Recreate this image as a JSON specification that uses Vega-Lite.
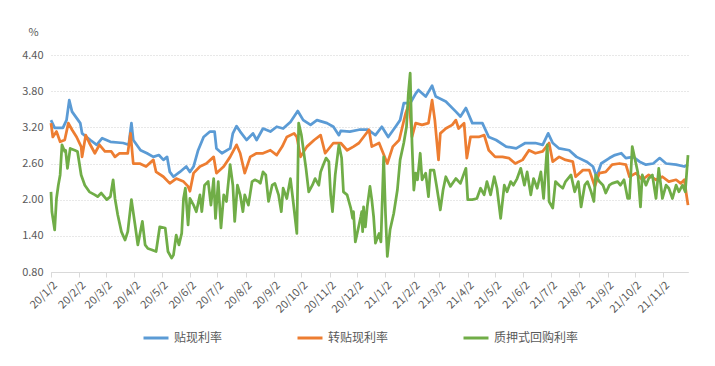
{
"$schema":"https://vega.github.io/schema/vega-lite/v6.json",
"width":637,"height":217,
"autosize":{"type":"none"},
"padding":{"left":51,"top":55,"right":27,"bottom":94},
"background":"white",
"config":{"view":{"stroke":null},"font":"Noto Sans CJK SC"},
"data":{"values":[
{"date":"2020-01-02","series":"贴现利率","rate":3.32},{"date":"2020-01-06","series":"贴现利率","rate":3.19},{"date":"2020-01-15","series":"贴现利率","rate":3.19},{"date":"2020-01-19","series":"贴现利率","rate":3.32},{"date":"2020-01-22","series":"贴现利率","rate":3.65},{"date":"2020-01-25","series":"贴现利率","rate":3.46},{"date":"2020-02-03","series":"贴现利率","rate":3.27},{"date":"2020-02-05","series":"贴现利率","rate":3.10},{"date":"2020-02-14","series":"贴现利率","rate":2.99},{"date":"2020-02-21","series":"贴现利率","rate":2.91},{"date":"2020-02-27","series":"贴现利率","rate":3.02},{"date":"2020-03-07","series":"贴现利率","rate":2.96},{"date":"2020-03-21","series":"贴现利率","rate":2.94},{"date":"2020-03-27","series":"贴现利率","rate":2.91},{"date":"2020-03-30","series":"贴现利率","rate":3.27},{"date":"2020-04-01","series":"贴现利率","rate":2.99},{"date":"2020-04-09","series":"贴现利率","rate":2.82},{"date":"2020-04-16","series":"贴现利率","rate":2.77},{"date":"2020-04-23","series":"贴现利率","rate":2.71},{"date":"2020-04-29","series":"贴现利率","rate":2.74},{"date":"2020-05-04","series":"贴现利率","rate":2.66},{"date":"2020-05-08","series":"贴现利率","rate":2.71},{"date":"2020-05-11","series":"贴现利率","rate":2.46},{"date":"2020-05-15","series":"贴现利率","rate":2.38},{"date":"2020-05-22","series":"贴现利率","rate":2.46},{"date":"2020-05-29","series":"贴现利率","rate":2.55},{"date":"2020-06-02","series":"贴现利率","rate":2.46},{"date":"2020-06-06","series":"贴现利率","rate":2.55},{"date":"2020-06-11","series":"贴现利率","rate":2.82},{"date":"2020-06-17","series":"贴现利率","rate":3.04},{"date":"2020-06-24","series":"贴现利率","rate":3.13},{"date":"2020-06-29","series":"贴现利率","rate":3.13},{"date":"2020-07-01","series":"贴现利率","rate":2.85},{"date":"2020-07-07","series":"贴现利率","rate":2.77},{"date":"2020-07-16","series":"贴现利率","rate":2.85},{"date":"2020-07-19","series":"贴现利率","rate":3.10},{"date":"2020-07-23","series":"贴现利率","rate":3.22},{"date":"2020-07-27","series":"贴现利率","rate":3.13},{"date":"2020-08-03","series":"贴现利率","rate":2.99},{"date":"2020-08-10","series":"贴现利率","rate":3.10},{"date":"2020-08-14","series":"贴现利率","rate":2.99},{"date":"2020-08-21","series":"贴现利率","rate":3.18},{"date":"2020-08-29","series":"贴现利率","rate":3.13},{"date":"2020-09-05","series":"贴现利率","rate":3.21},{"date":"2020-09-12","series":"贴现利率","rate":3.18},{"date":"2020-09-20","series":"贴现利率","rate":3.29},{"date":"2020-09-28","series":"贴现利率","rate":3.47},{"date":"2020-10-04","series":"贴现利率","rate":3.32},{"date":"2020-10-12","series":"贴现利率","rate":3.24},{"date":"2020-10-19","series":"贴现利率","rate":3.32},{"date":"2020-10-30","series":"贴现利率","rate":3.27},{"date":"2020-11-06","series":"贴现利率","rate":3.21},{"date":"2020-11-12","series":"贴现利率","rate":3.07},{"date":"2020-11-14","series":"贴现利率","rate":3.14},{"date":"2020-11-24","series":"贴现利率","rate":3.13},{"date":"2020-12-04","series":"贴现利率","rate":3.16},{"date":"2020-12-14","series":"贴现利率","rate":3.16},{"date":"2020-12-22","series":"贴现利率","rate":3.07},{"date":"2020-12-29","series":"贴现利率","rate":3.21},{"date":"2021-01-05","series":"贴现利率","rate":3.04},{"date":"2021-01-13","series":"贴现利率","rate":3.21},{"date":"2021-01-18","series":"贴现利率","rate":3.32},{"date":"2021-01-22","series":"贴现利率","rate":3.60},{"date":"2021-01-29","series":"贴现利率","rate":3.60},{"date":"2021-02-04","series":"贴现利率","rate":3.76},{"date":"2021-02-07","series":"贴现利率","rate":3.82},{"date":"2021-02-15","series":"贴现利率","rate":3.71},{"date":"2021-02-22","series":"贴现利率","rate":3.89},{"date":"2021-02-26","series":"贴现利率","rate":3.71},{"date":"2021-03-09","series":"贴现利率","rate":3.63},{"date":"2021-03-20","series":"贴现利率","rate":3.46},{"date":"2021-03-25","series":"贴现利率","rate":3.38},{"date":"2021-03-31","series":"贴现利率","rate":3.52},{"date":"2021-04-07","series":"贴现利率","rate":3.27},{"date":"2021-04-18","series":"贴现利率","rate":3.27},{"date":"2021-04-25","series":"贴现利率","rate":3.04},{"date":"2021-05-03","series":"贴现利率","rate":2.99},{"date":"2021-05-14","series":"贴现利率","rate":2.88},{"date":"2021-05-25","series":"贴现利率","rate":2.85},{"date":"2021-06-04","series":"贴现利率","rate":2.94},{"date":"2021-06-15","series":"贴现利率","rate":2.94},{"date":"2021-06-23","series":"贴现利率","rate":2.91},{"date":"2021-06-29","series":"贴现利率","rate":3.10},{"date":"2021-07-04","series":"贴现利率","rate":2.94},{"date":"2021-07-11","series":"贴现利率","rate":2.85},{"date":"2021-07-22","series":"贴现利率","rate":2.82},{"date":"2021-07-30","series":"贴现利率","rate":2.71},{"date":"2021-08-10","series":"贴现利率","rate":2.63},{"date":"2021-08-17","series":"贴现利率","rate":2.55},{"date":"2021-08-21","series":"贴现利率","rate":2.38},{"date":"2021-08-26","series":"贴现利率","rate":2.60},{"date":"2021-09-04","series":"贴现利率","rate":2.69},{"date":"2021-09-10","series":"贴现利率","rate":2.74},{"date":"2021-09-17","series":"贴现利率","rate":2.77},{"date":"2021-09-22","series":"贴现利率","rate":2.69},{"date":"2021-09-30","series":"贴现利率","rate":2.71},{"date":"2021-10-07","series":"贴现利率","rate":2.63},{"date":"2021-10-14","series":"贴现利率","rate":2.58},{"date":"2021-10-22","series":"贴现利率","rate":2.60},{"date":"2021-10-29","series":"贴现利率","rate":2.69},{"date":"2021-11-05","series":"贴现利率","rate":2.60},{"date":"2021-11-16","series":"贴现利率","rate":2.58},{"date":"2021-11-25","series":"贴现利率","rate":2.55},{"date":"2021-11-29","series":"贴现利率","rate":2.58},
{"date":"2020-01-02","series":"转贴现利率","rate":3.27},{"date":"2020-01-04","series":"转贴现利率","rate":3.04},{"date":"2020-01-08","series":"转贴现利率","rate":3.13},{"date":"2020-01-12","series":"转贴现利率","rate":2.96},{"date":"2020-01-17","series":"转贴现利率","rate":2.99},{"date":"2020-01-21","series":"转贴现利率","rate":3.27},{"date":"2020-01-25","series":"转贴现利率","rate":3.16},{"date":"2020-01-30","series":"转贴现利率","rate":3.04},{"date":"2020-02-04","series":"转贴现利率","rate":2.88},{"date":"2020-02-05","series":"转贴现利率","rate":2.71},{"date":"2020-02-09","series":"转贴现利率","rate":3.07},{"date":"2020-02-13","series":"转贴现利率","rate":2.94},{"date":"2020-02-19","series":"转贴现利率","rate":2.77},{"date":"2020-02-24","series":"转贴现利率","rate":2.91},{"date":"2020-03-01","series":"转贴现利率","rate":2.80},{"date":"2020-03-08","series":"转贴现利率","rate":2.80},{"date":"2020-03-12","series":"转贴现利率","rate":2.71},{"date":"2020-03-17","series":"转贴现利率","rate":2.77},{"date":"2020-03-26","series":"转贴现利率","rate":2.77},{"date":"2020-03-29","series":"转贴现利率","rate":3.10},{"date":"2020-04-01","series":"转贴现利率","rate":2.60},{"date":"2020-04-08","series":"转贴现利率","rate":2.60},{"date":"2020-04-15","series":"转贴现利率","rate":2.55},{"date":"2020-04-23","series":"转贴现利率","rate":2.66},{"date":"2020-04-26","series":"转贴现利率","rate":2.46},{"date":"2020-05-04","series":"转贴现利率","rate":2.38},{"date":"2020-05-11","series":"转贴现利率","rate":2.27},{"date":"2020-05-18","series":"转贴现利率","rate":2.35},{"date":"2020-05-26","series":"转贴现利率","rate":2.30},{"date":"2020-05-31","series":"转贴现利率","rate":2.22},{"date":"2020-06-02","series":"转贴现利率","rate":2.14},{"date":"2020-06-06","series":"转贴现利率","rate":2.44},{"date":"2020-06-13","series":"转贴现利率","rate":2.55},{"date":"2020-06-20","series":"转贴现利率","rate":2.60},{"date":"2020-06-28","series":"转贴现利率","rate":2.71},{"date":"2020-07-01","series":"转贴现利率","rate":2.44},{"date":"2020-07-09","series":"转贴现利率","rate":2.55},{"date":"2020-07-16","series":"转贴现利率","rate":2.71},{"date":"2020-07-23","series":"转贴现利率","rate":2.91},{"date":"2020-07-27","series":"转贴现利率","rate":2.77},{"date":"2020-08-01","series":"转贴现利率","rate":2.44},{"date":"2020-08-07","series":"转贴现利率","rate":2.71},{"date":"2020-08-14","series":"转贴现利率","rate":2.77},{"date":"2020-08-21","series":"转贴现利率","rate":2.77},{"date":"2020-08-29","series":"转贴现利率","rate":2.82},{"date":"2020-09-05","series":"转贴现利率","rate":2.74},{"date":"2020-09-11","series":"转贴现利率","rate":2.88},{"date":"2020-09-16","series":"转贴现利率","rate":3.04},{"date":"2020-09-24","series":"转贴现利率","rate":3.10},{"date":"2020-09-27","series":"转贴现利率","rate":3.04},{"date":"2020-10-01","series":"转贴现利率","rate":2.71},{"date":"2020-10-08","series":"转贴现利率","rate":2.88},{"date":"2020-10-16","series":"转贴现利率","rate":2.99},{"date":"2020-10-23","series":"转贴现利率","rate":3.07},{"date":"2020-10-28","series":"转贴现利率","rate":2.77},{"date":"2020-11-06","series":"转贴现利率","rate":2.94},{"date":"2020-11-14","series":"转贴现利率","rate":2.94},{"date":"2020-11-21","series":"转贴现利率","rate":2.82},{"date":"2020-11-28","series":"转贴现利率","rate":2.88},{"date":"2020-12-04","series":"转贴现利率","rate":2.94},{"date":"2020-12-15","series":"转贴现利率","rate":3.16},{"date":"2020-12-18","series":"转贴现利率","rate":2.88},{"date":"2020-12-26","series":"转贴现利率","rate":2.94},{"date":"2021-01-04","series":"转贴现利率","rate":2.60},{"date":"2021-01-10","series":"转贴现利率","rate":2.88},{"date":"2021-01-17","series":"转贴现利率","rate":2.99},{"date":"2021-01-24","series":"转贴现利率","rate":3.43},{"date":"2021-01-28","series":"转贴现利率","rate":3.60},{"date":"2021-01-31","series":"转贴现利率","rate":3.04},{"date":"2021-02-04","series":"转贴现利率","rate":3.27},{"date":"2021-02-11","series":"转贴现利率","rate":3.24},{"date":"2021-02-18","series":"转贴现利率","rate":3.27},{"date":"2021-02-22","series":"转贴现利率","rate":3.65},{"date":"2021-02-25","series":"转贴现利率","rate":3.32},{"date":"2021-03-01","series":"转贴现利率","rate":2.66},{"date":"2021-03-03","series":"转贴现利率","rate":3.10},{"date":"2021-03-09","series":"转贴现利率","rate":3.18},{"date":"2021-03-16","series":"转贴现利率","rate":3.24},{"date":"2021-03-20","series":"转贴现利率","rate":3.32},{"date":"2021-03-23","series":"转贴现利率","rate":3.18},{"date":"2021-03-29","series":"转贴现利率","rate":3.27},{"date":"2021-04-01","series":"转贴现利率","rate":2.69},{"date":"2021-04-05","series":"转贴现利率","rate":3.04},{"date":"2021-04-14","series":"转贴现利率","rate":3.04},{"date":"2021-04-20","series":"转贴现利率","rate":3.07},{"date":"2021-04-25","series":"转贴现利率","rate":2.82},{"date":"2021-05-02","series":"转贴现利率","rate":2.71},{"date":"2021-05-10","series":"转贴现利率","rate":2.71},{"date":"2021-05-17","series":"转贴现利率","rate":2.69},{"date":"2021-05-24","series":"转贴现利率","rate":2.60},{"date":"2021-06-01","series":"转贴现利率","rate":2.66},{"date":"2021-06-08","series":"转贴现利率","rate":2.82},{"date":"2021-06-15","series":"转贴现利率","rate":2.77},{"date":"2021-06-23","series":"转贴现利率","rate":2.80},{"date":"2021-06-30","series":"转贴现利率","rate":2.94},{"date":"2021-07-04","series":"转贴现利率","rate":2.63},{"date":"2021-07-11","series":"转贴现利率","rate":2.71},{"date":"2021-07-18","series":"转贴现利率","rate":2.66},{"date":"2021-07-26","series":"转贴现利率","rate":2.63},{"date":"2021-07-29","series":"转贴现利率","rate":2.38},{"date":"2021-08-06","series":"转贴现利率","rate":2.49},{"date":"2021-08-13","series":"转贴现利率","rate":2.49},{"date":"2021-08-19","series":"转贴现利率","rate":2.22},{"date":"2021-08-24","series":"转贴现利率","rate":2.44},{"date":"2021-08-31","series":"转贴现利率","rate":2.46},{"date":"2021-09-07","series":"转贴现利率","rate":2.58},{"date":"2021-09-15","series":"转贴现利率","rate":2.60},{"date":"2021-09-22","series":"转贴现利率","rate":2.58},{"date":"2021-09-26","series":"转贴现利率","rate":2.38},{"date":"2021-10-03","series":"转贴现利率","rate":2.44},{"date":"2021-10-10","series":"转贴现利率","rate":2.33},{"date":"2021-10-17","series":"转贴现利率","rate":2.41},{"date":"2021-10-25","series":"转贴现利率","rate":2.33},{"date":"2021-11-01","series":"转贴现利率","rate":2.38},{"date":"2021-11-08","series":"转贴现利率","rate":2.30},{"date":"2021-11-16","series":"转贴现利率","rate":2.33},{"date":"2021-11-21","series":"转贴现利率","rate":2.27},{"date":"2021-11-25","series":"转贴现利率","rate":2.33},{"date":"2021-11-27","series":"转贴现利率","rate":2.11},{"date":"2021-11-29","series":"转贴现利率","rate":1.91},
{"date":"2020-01-02","series":"质押式回购利率","rate":2.13},{"date":"2020-01-03","series":"质押式回购利率","rate":1.80},{"date":"2020-01-06","series":"质押式回购利率","rate":1.50},{"date":"2020-01-08","series":"质押式回购利率","rate":2.02},{"date":"2020-01-10","series":"质押式回购利率","rate":2.24},{"date":"2020-01-12","series":"质押式回购利率","rate":2.41},{"date":"2020-01-14","series":"质押式回购利率","rate":2.91},{"date":"2020-01-17","series":"质押式回购利率","rate":2.80},{"date":"2020-01-18","series":"质押式回购利率","rate":2.82},{"date":"2020-01-20","series":"质押式回购利率","rate":2.52},{"date":"2020-01-23","series":"质押式回购利率","rate":2.85},{"date":"2020-01-28","series":"质押式回购利率","rate":2.82},{"date":"2020-01-31","series":"质押式回购利率","rate":2.80},{"date":"2020-02-04","series":"质押式回购利率","rate":2.41},{"date":"2020-02-08","series":"质押式回购利率","rate":2.24},{"date":"2020-02-13","series":"质押式回购利率","rate":2.13},{"date":"2020-02-19","series":"质押式回购利率","rate":2.08},{"date":"2020-02-22","series":"质押式回购利率","rate":2.05},{"date":"2020-02-26","series":"质押式回购利率","rate":2.11},{"date":"2020-03-03","series":"质押式回购利率","rate":2.00},{"date":"2020-03-07","series":"质押式回购利率","rate":2.05},{"date":"2020-03-10","series":"质押式回购利率","rate":2.33},{"date":"2020-03-12","series":"质押式回购利率","rate":2.02},{"date":"2020-03-15","series":"质押式回购利率","rate":1.75},{"date":"2020-03-19","series":"质押式回购利率","rate":1.47},{"date":"2020-03-23","series":"质押式回购利率","rate":1.33},{"date":"2020-03-26","series":"质押式回购利率","rate":1.47},{"date":"2020-03-30","series":"质押式回购利率","rate":2.00},{"date":"2020-04-03","series":"质押式回购利率","rate":1.58},{"date":"2020-04-06","series":"质押式回购利率","rate":1.25},{"date":"2020-04-11","series":"质押式回购利率","rate":1.64},{"date":"2020-04-14","series":"质押式回购利率","rate":1.25},{"date":"2020-04-17","series":"质押式回购利率","rate":1.19},{"date":"2020-04-21","series":"质押式回购利率","rate":1.17},{"date":"2020-04-26","series":"质押式回购利率","rate":1.14},{"date":"2020-04-30","series":"质押式回购利率","rate":1.55},{"date":"2020-05-06","series":"质押式回购利率","rate":1.53},{"date":"2020-05-09","series":"质押式回购利率","rate":1.14},{"date":"2020-05-13","series":"质押式回购利率","rate":1.03},{"date":"2020-05-15","series":"质押式回购利率","rate":1.08},{"date":"2020-05-18","series":"质押式回购利率","rate":1.41},{"date":"2020-05-21","series":"质押式回购利率","rate":1.25},{"date":"2020-05-24","series":"质押式回购利率","rate":1.44},{"date":"2020-05-26","series":"质押式回购利率","rate":2.02},{"date":"2020-05-28","series":"质押式回购利率","rate":2.19},{"date":"2020-05-31","series":"质押式回购利率","rate":1.58},{"date":"2020-06-02","series":"质押式回购利率","rate":2.02},{"date":"2020-06-06","series":"质押式回购利率","rate":1.91},{"date":"2020-06-09","series":"质押式回购利率","rate":1.80},{"date":"2020-06-13","series":"质押式回购利率","rate":2.08},{"date":"2020-06-15","series":"质押式回购利率","rate":1.80},{"date":"2020-06-18","series":"质押式回购利率","rate":2.24},{"date":"2020-06-22","series":"质押式回购利率","rate":2.30},{"date":"2020-06-25","series":"质押式回购利率","rate":1.91},{"date":"2020-06-28","series":"质押式回购利率","rate":2.35},{"date":"2020-06-30","series":"质押式回购利率","rate":1.69},{"date":"2020-07-03","series":"质押式回购利率","rate":2.30},{"date":"2020-07-06","series":"质押式回购利率","rate":1.53},{"date":"2020-07-09","series":"质押式回购利率","rate":2.08},{"date":"2020-07-12","series":"质押式回购利率","rate":1.97},{"date":"2020-07-16","series":"质押式回购利率","rate":2.58},{"date":"2020-07-19","series":"质押式回购利率","rate":2.24},{"date":"2020-07-21","series":"质押式回购利率","rate":1.64},{"date":"2020-07-24","series":"质押式回购利率","rate":2.24},{"date":"2020-07-27","series":"质押式回购利率","rate":2.08},{"date":"2020-07-30","series":"质押式回购利率","rate":1.80},{"date":"2020-08-01","series":"质押式回购利率","rate":2.08},{"date":"2020-08-05","series":"质押式回购利率","rate":1.91},{"date":"2020-08-09","series":"质押式回购利率","rate":2.30},{"date":"2020-08-12","series":"质押式回购利率","rate":2.33},{"date":"2020-08-16","series":"质押式回购利率","rate":2.30},{"date":"2020-08-18","series":"质押式回购利率","rate":2.27},{"date":"2020-08-21","series":"质押式回购利率","rate":2.46},{"date":"2020-08-24","series":"质押式回购利率","rate":2.41},{"date":"2020-08-27","series":"质押式回购利率","rate":1.97},{"date":"2020-08-31","series":"质押式回购利率","rate":2.24},{"date":"2020-09-03","series":"质押式回购利率","rate":2.27},{"date":"2020-09-07","series":"质押式回购利率","rate":2.08},{"date":"2020-09-10","series":"质押式回购利率","rate":1.80},{"date":"2020-09-12","series":"质押式回购利率","rate":2.19},{"date":"2020-09-16","series":"质押式回购利率","rate":2.02},{"date":"2020-09-20","series":"质押式回购利率","rate":2.35},{"date":"2020-09-23","series":"质押式回购利率","rate":1.97},{"date":"2020-09-27","series":"质押式回购利率","rate":1.44},{"date":"2020-09-29","series":"质押式回购利率","rate":3.27},{"date":"2020-10-02","series":"质押式回购利率","rate":3.07},{"date":"2020-10-07","series":"质押式回购利率","rate":2.52},{"date":"2020-10-10","series":"质押式回购利率","rate":2.13},{"date":"2020-10-14","series":"质押式回购利率","rate":2.24},{"date":"2020-10-17","series":"质押式回购利率","rate":2.35},{"date":"2020-10-21","series":"质押式回购利率","rate":2.24},{"date":"2020-10-23","series":"质押式回购利率","rate":2.46},{"date":"2020-10-26","series":"质押式回购利率","rate":2.58},{"date":"2020-10-29","series":"质押式回购利率","rate":2.69},{"date":"2020-11-01","series":"质押式回购利率","rate":2.63},{"date":"2020-11-03","series":"质押式回购利率","rate":2.08},{"date":"2020-11-05","series":"质押式回购利率","rate":1.80},{"date":"2020-11-08","series":"质押式回购利率","rate":2.41},{"date":"2020-11-12","series":"质押式回购利率","rate":2.91},{"date":"2020-11-15","series":"质押式回购利率","rate":2.69},{"date":"2020-11-17","series":"质押式回购利率","rate":2.13},{"date":"2020-11-21","series":"质押式回购利率","rate":2.08},{"date":"2020-11-25","series":"质押式回购利率","rate":1.86},{"date":"2020-11-27","series":"质押式回购利率","rate":1.69},{"date":"2020-11-28","series":"质押式回购利率","rate":1.80},{"date":"2020-11-30","series":"质押式回购利率","rate":1.30},{"date":"2020-12-04","series":"质押式回购利率","rate":1.58},{"date":"2020-12-06","series":"质押式回购利率","rate":1.72},{"date":"2020-12-07","series":"质押式回购利率","rate":1.80},{"date":"2020-12-08","series":"质押式回购利率","rate":1.47},{"date":"2020-12-09","series":"质押式回购利率","rate":1.88},{"date":"2020-12-11","series":"质押式回购利率","rate":1.55},{"date":"2020-12-13","series":"质押式回购利率","rate":1.88},{"date":"2020-12-16","series":"质押式回购利率","rate":2.22},{"date":"2020-12-18","series":"质押式回购利率","rate":2.00},{"date":"2020-12-20","series":"质押式回购利率","rate":1.72},{"date":"2020-12-22","series":"质押式回购利率","rate":1.28},{"date":"2020-12-26","series":"质押式回购利率","rate":1.44},{"date":"2020-12-28","series":"质押式回购利率","rate":1.30},{"date":"2020-12-31","series":"质押式回购利率","rate":2.71},{"date":"2021-01-02","series":"质押式回购利率","rate":1.77},{"date":"2021-01-04","series":"质押式回购利率","rate":1.06},{"date":"2021-01-07","series":"质押式回购利率","rate":1.50},{"date":"2021-01-11","series":"质押式回购利率","rate":1.77},{"date":"2021-01-15","series":"质押式回购利率","rate":2.16},{"date":"2021-01-18","series":"质押式回购利率","rate":2.66},{"date":"2021-01-22","series":"质押式回购利率","rate":2.94},{"date":"2021-01-25","series":"质押式回购利率","rate":3.21},{"date":"2021-01-27","series":"质押式回购利率","rate":3.76},{"date":"2021-01-29","series":"质押式回购利率","rate":4.10},{"date":"2021-01-31","series":"质押式回购利率","rate":2.94},{"date":"2021-02-02","series":"质押式回购利率","rate":2.16},{"date":"2021-02-04","series":"质押式回购利率","rate":2.44},{"date":"2021-02-06","series":"质押式回购利率","rate":2.33},{"date":"2021-02-09","series":"质押式回购利率","rate":2.77},{"date":"2021-02-11","series":"质押式回购利率","rate":2.33},{"date":"2021-02-15","series":"质押式回购利率","rate":2.44},{"date":"2021-02-18","series":"质押式回购利率","rate":2.05},{"date":"2021-02-20","series":"质押式回购利率","rate":2.49},{"date":"2021-02-24","series":"质押式回购利率","rate":2.49},{"date":"2021-02-27","series":"质押式回购利率","rate":2.22},{"date":"2021-03-03","series":"质押式回购利率","rate":1.83},{"date":"2021-03-06","series":"质押式回购利率","rate":2.16},{"date":"2021-03-09","series":"质押式回购利率","rate":2.38},{"date":"2021-03-14","series":"质押式回购利率","rate":2.22},{"date":"2021-03-20","series":"质押式回购利率","rate":2.35},{"date":"2021-03-25","series":"质押式回购利率","rate":2.27},{"date":"2021-03-29","series":"质押式回购利率","rate":2.44},{"date":"2021-03-31","series":"质押式回购利率","rate":2.52},{"date":"2021-04-02","series":"质押式回购利率","rate":2.00},{"date":"2021-04-07","series":"质押式回购利率","rate":2.00},{"date":"2021-04-12","series":"质押式回购利率","rate":2.02},{"date":"2021-04-16","series":"质押式回购利率","rate":2.19},{"date":"2021-04-20","series":"质押式回购利率","rate":2.08},{"date":"2021-04-23","series":"质押式回购利率","rate":2.30},{"date":"2021-04-27","series":"质押式回购利率","rate":2.08},{"date":"2021-05-01","series":"质押式回购利率","rate":2.38},{"date":"2021-05-04","series":"质押式回购利率","rate":2.19},{"date":"2021-05-08","series":"质押式回购利率","rate":1.69},{"date":"2021-05-12","series":"质押式回购利率","rate":2.24},{"date":"2021-05-15","series":"质押式回购利率","rate":2.13},{"date":"2021-05-19","series":"质押式回购利率","rate":2.30},{"date":"2021-05-22","series":"质押式回购利率","rate":2.24},{"date":"2021-05-26","series":"质押式回购利率","rate":2.35},{"date":"2021-05-30","series":"质押式回购利率","rate":2.52},{"date":"2021-06-03","series":"质押式回购利率","rate":2.24},{"date":"2021-06-06","series":"质押式回购利率","rate":2.46},{"date":"2021-06-10","series":"质押式回购利率","rate":2.08},{"date":"2021-06-13","series":"质押式回购利率","rate":2.35},{"date":"2021-06-17","series":"质押式回购利率","rate":2.19},{"date":"2021-06-21","series":"质押式回购利率","rate":2.46},{"date":"2021-06-24","series":"质押式回购利率","rate":2.02},{"date":"2021-06-28","series":"质押式回购利率","rate":2.91},{"date":"2021-06-30","series":"质押式回购利率","rate":1.97},{"date":"2021-07-04","series":"质押式回购利率","rate":1.86},{"date":"2021-07-07","series":"质押式回购利率","rate":2.30},{"date":"2021-07-11","series":"质押式回购利率","rate":2.24},{"date":"2021-07-15","series":"质押式回购利率","rate":2.19},{"date":"2021-07-18","series":"质押式回购利率","rate":2.30},{"date":"2021-07-24","series":"质押式回购利率","rate":2.41},{"date":"2021-07-28","series":"质押式回购利率","rate":2.13},{"date":"2021-08-01","series":"质押式回购利率","rate":2.30},{"date":"2021-08-04","series":"质押式回购利率","rate":1.88},{"date":"2021-08-08","series":"质押式回购利率","rate":2.24},{"date":"2021-08-11","series":"质押式回购利率","rate":2.30},{"date":"2021-08-15","series":"质押式回购利率","rate":2.13},{"date":"2021-08-18","series":"质押式回购利率","rate":1.97},{"date":"2021-08-20","series":"质押式回购利率","rate":2.41},{"date":"2021-08-24","series":"质押式回购利率","rate":2.30},{"date":"2021-08-28","series":"质押式回购利率","rate":2.24},{"date":"2021-08-31","series":"质押式回购利率","rate":2.11},{"date":"2021-09-04","series":"质押式回购利率","rate":2.24},{"date":"2021-09-07","series":"质押式回购利率","rate":2.27},{"date":"2021-09-13","series":"质押式回购利率","rate":2.30},{"date":"2021-09-16","series":"质押式回购利率","rate":2.24},{"date":"2021-09-20","series":"质押式回购利率","rate":2.33},{"date":"2021-09-24","series":"质押式回购利率","rate":2.02},{"date":"2021-09-26","series":"质押式回购利率","rate":2.02},{"date":"2021-09-29","series":"质押式回购利率","rate":2.88},{"date":"2021-10-01","series":"质押式回购利率","rate":2.74},{"date":"2021-10-05","series":"质押式回购利率","rate":2.46},{"date":"2021-10-08","series":"质押式回购利率","rate":1.88},{"date":"2021-10-10","series":"质押式回购利率","rate":2.41},{"date":"2021-10-14","series":"质押式回购利率","rate":2.24},{"date":"2021-10-17","series":"质押式回购利率","rate":2.35},{"date":"2021-10-21","series":"质押式回购利率","rate":2.41},{"date":"2021-10-25","series":"质押式回购利率","rate":2.02},{"date":"2021-10-28","series":"质押式回购利率","rate":2.52},{"date":"2021-11-01","series":"质押式回购利率","rate":2.02},{"date":"2021-11-05","series":"质押式回购利率","rate":2.24},{"date":"2021-11-08","series":"质押式回购利率","rate":2.19},{"date":"2021-11-12","series":"质押式回购利率","rate":2.02},{"date":"2021-11-16","series":"质押式回购利率","rate":2.24},{"date":"2021-11-19","series":"质押式回购利率","rate":2.13},{"date":"2021-11-23","series":"质押式回购利率","rate":2.24},{"date":"2021-11-26","series":"质押式回购利率","rate":2.13},{"date":"2021-11-29","series":"质押式回购利率","rate":2.74}
]},
"encoding":{
"x":{"field":"date","type":"temporal",
"scale":{"type":"utc","nice":false,"domain":[{"year":2020,"month":1,"date":2,"utc":true},{"year":2021,"month":11,"date":29,"utc":true}]},
"axis":{"title":null,"grid":false,"format":"%y/%-m/%-d",
"values":[{"year":2020,"month":1,"date":2,"utc":true},{"year":2020,"month":2,"date":2,"utc":true},{"year":2020,"month":3,"date":2,"utc":true},{"year":2020,"month":4,"date":2,"utc":true},{"year":2020,"month":5,"date":2,"utc":true},{"year":2020,"month":6,"date":2,"utc":true},{"year":2020,"month":7,"date":2,"utc":true},{"year":2020,"month":8,"date":2,"utc":true},{"year":2020,"month":9,"date":2,"utc":true},{"year":2020,"month":10,"date":2,"utc":true},{"year":2020,"month":11,"date":2,"utc":true},{"year":2020,"month":12,"date":2,"utc":true},{"year":2021,"month":1,"date":2,"utc":true},{"year":2021,"month":2,"date":2,"utc":true},{"year":2021,"month":3,"date":2,"utc":true},{"year":2021,"month":4,"date":2,"utc":true},{"year":2021,"month":5,"date":2,"utc":true},{"year":2021,"month":6,"date":2,"utc":true},{"year":2021,"month":7,"date":2,"utc":true},{"year":2021,"month":8,"date":2,"utc":true},{"year":2021,"month":9,"date":2,"utc":true},{"year":2021,"month":10,"date":2,"utc":true},{"year":2021,"month":11,"date":2,"utc":true}],
"labelAngle":-45,"labelFontSize":11,"labelColor":"#595959","labelPadding":2,"labelOverlap":false,"labelFlush":false,
"domainColor":"#d9d9d9","tickColor":"#d9d9d9","tickSize":5}},
"y":{"field":"rate","type":"quantitative",
"scale":{"domain":[0.8,4.4],"nice":false,"zero":false},
"axis":{"title":"%","titleAngle":0,"titleX":-18,"titleY":-23,"titleAlign":"center","titleBaseline":"middle","titleFontSize":11,"titleFontWeight":"normal","titleColor":"#595959",
"values":[0.8,1.4,2.0,2.6,3.2,3.8,4.4],"format":".2f","domain":false,"ticks":false,"labelPadding":8,"labelFontSize":11,"labelColor":"#595959",
"gridColor":"#d0d0d0","gridDash":[1,2],"gridWidth":1}},
"color":{"field":"series","type":"nominal",
"scale":{"domain":["贴现利率","转贴现利率","质押式回购利率"],"range":["#5B9BD5","#ED7D31","#70AD47"]},
"legend":{"title":null,"orient":"none","legendX":91,"legendY":269,"direction":"horizontal","symbolType":"stroke","symbolSize":625,"symbolStrokeWidth":3,"labelFontSize":12,"labelColor":"#595959","labelOffset":4,"columnPadding":68}}
},
"layer":[
{"transform":[{"filter":"datum.series === '贴现利率'"}],"mark":{"type":"line","strokeWidth":2.75,"strokeJoin":"round"}},
{"transform":[{"filter":"datum.series === '转贴现利率'"}],"mark":{"type":"line","strokeWidth":2.75,"strokeJoin":"round"}},
{"transform":[{"filter":"datum.series === '质押式回购利率'"}],"mark":{"type":"line","strokeWidth":2.75,"strokeJoin":"round"}}
]
}
